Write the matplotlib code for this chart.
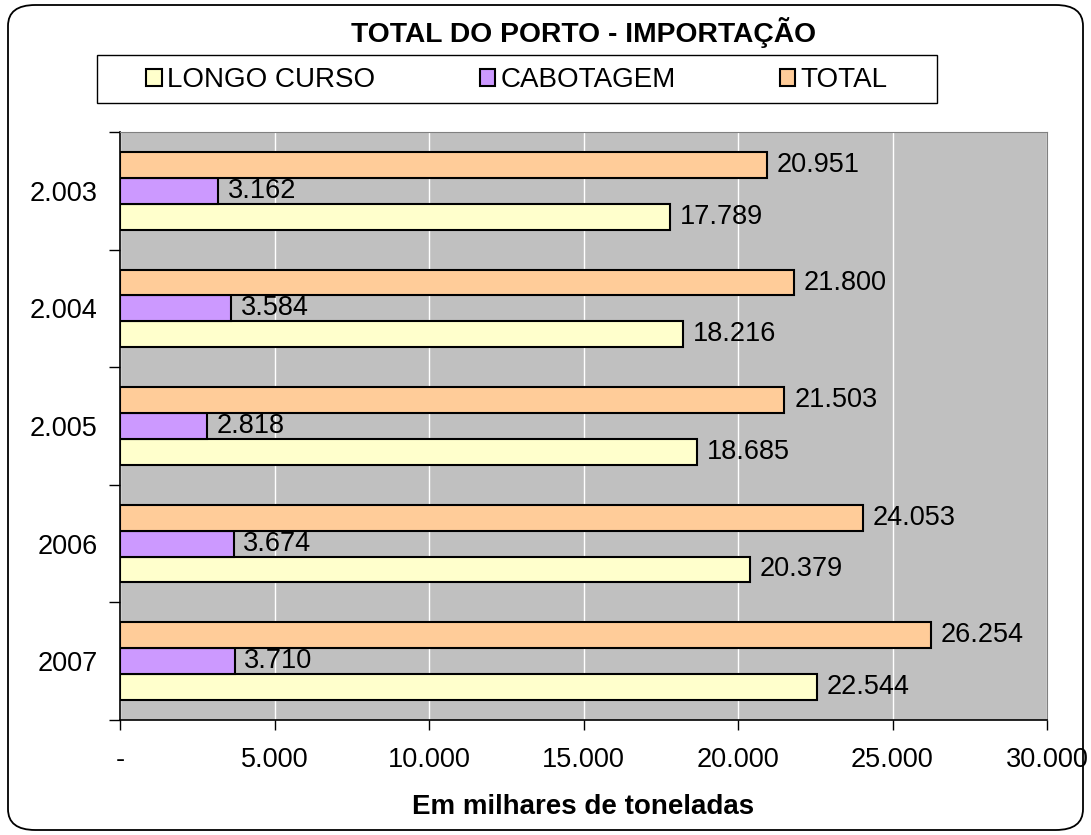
import matplotlib.pyplot as plt
import matplotlib.ticker as ticker
from matplotlib.patches import Patch, FancyBboxPatch, Rectangle
import numpy as np

anos = ["2.003", "2.004", "2.005", "2006", "2007"]
longo_curso = [17789, 18216, 18685, 20379, 22544]
cabotagem = [3162, 3584, 2818, 3674, 3710]
total = [20951, 21800, 21503, 24053, 26254]


def fmt_br(v, pos=None):
    if v == 0:
        return "-"
    return f"{int(round(v)):,}".replace(",", ".")


plt.rcParams['font.family'] = ['Liberation Sans', 'DejaVu Sans']

W, H = 1091, 835
fig = plt.figure(figsize=(W / 100, H / 100), dpi=100)
ax = fig.add_axes([120 / W, 1 - 720 / H, 927 / W, 588 / H])

# borda arredondada em volta do grafico
fig.patches.append(FancyBboxPatch((8 / W, 5 / H), 1075 / W, 825 / H,
                                  boxstyle="round,pad=0,rounding_size=0.025",
                                  transform=fig.transFigure, facecolor='none',
                                  edgecolor='black', linewidth=1.3))

y = np.arange(len(anos))
h = 0.22
series = [(longo_curso, "LONGO CURSO", "#FFFFCC", h),
          (cabotagem, "CABOTAGEM", "#CC99FF", 0),
          (total, "TOTAL", "#FFCC99", -h)]

ax.set_facecolor('#C0C0C0')
for vals, nome, cor, off in series:
    bars = ax.barh(y + off, vals, height=h, color=cor, edgecolor='black', linewidth=1.5,
                   label=nome, zorder=3)
    ax.bar_label(bars, labels=[fmt_br(v) for v in vals], padding=7, fontsize=19.5, zorder=4)

ax.set_xlim(0, 30000)
ax.set_ylim(len(anos) - 0.5, -0.5)
ax.xaxis.set_major_locator(ticker.MultipleLocator(5000))
ax.xaxis.set_major_formatter(ticker.FuncFormatter(fmt_br))
ax.set_yticks(y)
ax.set_yticklabels(anos)
ax.set_yticks(np.arange(len(anos) + 1) - 0.5, minor=True)
ax.tick_params(axis='y', which='major', length=0, labelsize=19.5, pad=16)
ax.tick_params(axis='y', which='minor', length=8, width=1)
ax.tick_params(axis='x', length=7, width=1, labelsize=19.5, pad=12.5)
ax.grid(axis='x', color='white', linewidth=1, zorder=1)
ax.set_axisbelow(True)

ax.spines['top'].set_color('#808080')
ax.spines['right'].set_color('#808080')
ax.spines['left'].set_linewidth(1.2)
ax.spines['bottom'].set_linewidth(1.2)

ax.set_xlabel("Em milhares de toneladas", fontsize=20, fontweight='bold', labelpad=15)

fig.text(584 / W, 1 - 33 / H, "TOTAL DO PORTO - IMPORTAÇÃO", ha='center', va='center',
         fontsize=20.3, fontweight='bold')

# caixa da legenda
fig.patches.append(Rectangle((97 / W, 1 - 103 / H), 840 / W, 48 / H, transform=fig.transFigure,
                             facecolor='white', edgecolor='black', linewidth=1))
handles = [Patch(facecolor=c, edgecolor='black', linewidth=1.5, label=n) for _, n, c, _ in series]
leg = fig.legend(handles=handles, loc='center', bbox_to_anchor=(517 / W, 1 - 80 / H),
                 ncol=3, fontsize=20, frameon=False,
                 handlelength=0.55, handleheight=0.55, handletextpad=0.2, columnspacing=3.75,
                 borderpad=0.2)

fig.savefig("out.png", dpi=100)
